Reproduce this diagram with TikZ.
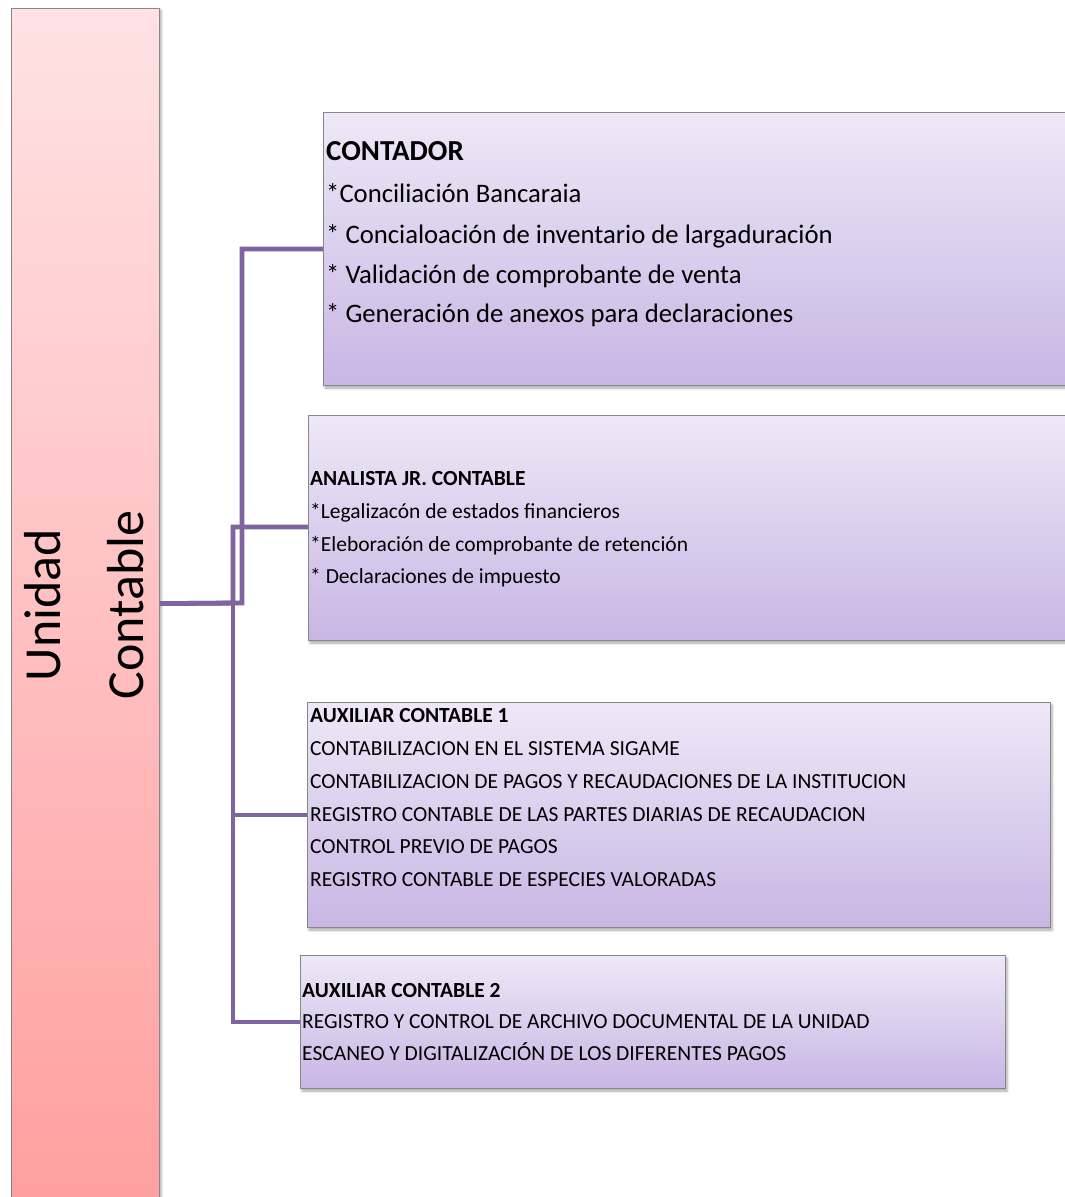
\documentclass[tikz,border=0pt]{standalone}
\usepackage{fontspec}
\setmainfont{Carlito}
\usetikzlibrary{shadows.blur}
\definecolor{linkc}{RGB}{128,100,162}
\definecolor{edgec}{RGB}{135,135,135}
\definecolor{ptop}{RGB}{238,232,247}
\definecolor{pbot}{RGB}{200,182,228}
\definecolor{rtop}{RGB}{255,226,228}
\definecolor{rbot}{RGB}{255,160,160}
\tikzset{
  rolebox/.style={draw=edgec, line width=1pt, top color=ptop, bottom color=pbot,
    anchor=north west, inner sep=0pt,
    blur shadow={shadow xshift=1.5pt, shadow yshift=-2.5pt, shadow blur radius=2.5pt, shadow opacity=35}},
  unitbox/.style={draw=edgec, line width=1.2pt, top color=rtop, bottom color=rbot,
    anchor=north west, inner sep=0pt,
    blur shadow={shadow xshift=1.5pt, shadow yshift=-1.5pt, shadow blur radius=2.5pt, shadow opacity=35}},
  link/.style={draw=linkc, line width=4.8pt},
  txtbig/.style={anchor=base west, inner sep=0pt, font=\fontsize{26.7}{30}\selectfont},
  txtsmall/.style={anchor=base west, inner sep=0pt, font=\fontsize{21.5}{25}\selectfont},
  txthead/.style={anchor=base west, inner sep=0pt, font=\fontsize{21.5}{25}\selectfont\bfseries},
  unittxt/.style={anchor=base, inner sep=0pt, rotate=90, font=\fontsize{52}{60}\selectfont}
}
\begin{document}
\begin{tikzpicture}[x=1pt,y=-1pt]
\useasboundingbox (0,0) rectangle (1065,1197);

% boxes
\node[unitbox, minimum width=148pt, minimum height=1190pt] (unidad) at (11,8) {};
\node[rolebox, minimum width=760pt, minimum height=273pt] (contador) at (323,112) {};
\node[rolebox, minimum width=770pt, minimum height=225pt] (analista) at (308,415) {};
\node[rolebox, minimum width=743pt, minimum height=225pt] (aux1) at (307,702) {};
\node[rolebox, minimum width=705pt, minimum height=133pt] (aux2) at (300,955) {};

% connectors
\draw[link] (unidad.east) -- (242,603) -- (242,249) -- (contador.west |- 0,249);
\draw[link] (unidad.east) -- (233,603) -- (233,527) -- (analista.west |- 0,527);
\draw[link] (233,600) -- (233,815) -- (aux1.west |- 0,815);
\draw[link] (233,810) -- (233,1022) -- (aux2.west |- 0,1022);

% unit label
\node[unittxt] (u1) at (60,605) {Unidad};
\node[unittxt] (u2) at (143,605) {Contable};

% CONTADOR
\node[txtbig, font=\fontsize{29}{30}\selectfont\bfseries] (c0) at (326,160) {CONTADOR};
\node[txtbig] (c1) at (326,202) {*Conciliación Bancaraia};
\node[txtbig] (c2) at (326,243) {* Concialoación de inventario de largaduración};
\node[txtbig] (c3) at (326,283) {* Validación de comprobante de venta};
\node[txtbig] (c4) at (326,322) {* Generación de anexos para declaraciones};

% ANALISTA
\node[txthead] (a0) at (310,485) {ANALISTA JR. CONTABLE};
\node[txtsmall] (a1) at (310,518) {*Legalizacón de estados financieros};
\node[txtsmall] (a2) at (310,551) {*Eleboración de comprobante de retención};
\node[txtsmall] (a3) at (310,583) {* Declaraciones de impuesto};

% AUXILIAR 1
\node[txthead] (b0) at (310,722) {AUXILIAR CONTABLE 1};
\node[txtsmall] (b1) at (310,755) {CONTABILIZACION EN EL SISTEMA SIGAME};
\node[txtsmall] (b2) at (310,788) {CONTABILIZACION DE PAGOS Y RECAUDACIONES DE LA INSTITUCION};
\node[txtsmall] (b3) at (310,821) {REGISTRO CONTABLE DE LAS PARTES DIARIAS DE RECAUDACION};
\node[txtsmall] (b4) at (310,853) {CONTROL PREVIO DE PAGOS};
\node[txtsmall] (b5) at (310,886) {REGISTRO CONTABLE DE ESPECIES VALORADAS};

% AUXILIAR 2
\node[txthead] (d0) at (302,997) {AUXILIAR CONTABLE 2};
\node[txtsmall] (d1) at (302,1028) {REGISTRO Y CONTROL DE ARCHIVO DOCUMENTAL DE LA UNIDAD};
\node[txtsmall] (d2) at (302,1060) {ESCANEO Y DIGITALIZACIÓN DE LOS DIFERENTES PAGOS};
\end{tikzpicture}
\end{document}
